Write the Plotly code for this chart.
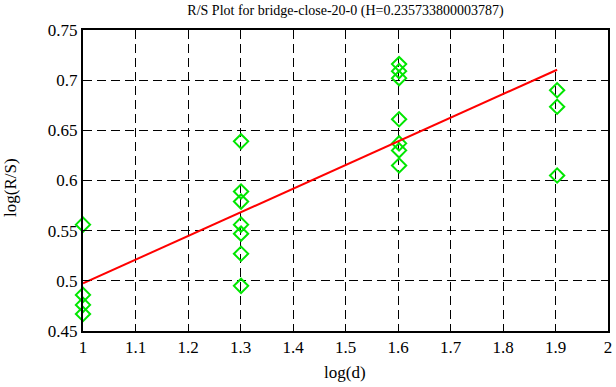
import plotly.graph_objects as go

# Data
x_vals = [1.0, 1.0, 1.0, 1.0,
          1.30103, 1.30103, 1.30103, 1.30103, 1.30103, 1.30103, 1.30103,
          1.60206, 1.60206, 1.60206, 1.60206, 1.60206, 1.60206, 1.60206,
          1.90309, 1.90309, 1.90309]
y_vals = [0.556, 0.486, 0.476, 0.467,
          0.639, 0.589, 0.579, 0.556, 0.547, 0.527, 0.495,
          0.716, 0.709, 0.702, 0.661, 0.637, 0.630, 0.615,
          0.690, 0.6735, 0.605]
H = 0.235733800003787
intercept_at_1 = 0.4975
fit_x = [1.0, 1.90309]
fit_y = [intercept_at_1 + H * (xv - 1.0) for xv in fit_x]

x_ticks = [1, 1.1, 1.2, 1.3, 1.4, 1.5, 1.6, 1.7, 1.8, 1.9, 2]
x_ticklabels = ["1", "1.1", "1.2", "1.3", "1.4", "1.5", "1.6", "1.7", "1.8", "1.9", "2"]
y_ticks = [0.45, 0.5, 0.55, 0.6, 0.65, 0.7, 0.75]
y_ticklabels = ["0.45", "0.5", "0.55", "0.6", "0.65", "0.7", "0.75"]

font_family = "Liberation Serif"
W, Hpx = 616, 387

fig = go.Figure()
fig.add_trace(go.Scatter(
    x=x_vals, y=y_vals, mode="markers",
    marker=dict(symbol="diamond-open", size=11, color="#00e600",
                line=dict(width=2, color="#00e600")),
    showlegend=False, cliponaxis=False,
))
fig.add_trace(go.Scatter(
    x=fit_x, y=fit_y, mode="lines",
    line=dict(color="#ff0000", width=2),
    showlegend=False,
))

axis_common = dict(
    showline=True, linecolor="black", linewidth=2, mirror="ticks",
    ticks="inside", ticklen=7, tickwidth=1, tickcolor="black",
    showgrid=True, gridcolor="black", gridwidth=1, griddash="9px,5px",
    zeroline=False, automargin=False,
    tickfont=dict(family=font_family, size=17, color="black"),
)

fig.update_layout(
    width=W, height=Hpx,
    margin=dict(l=83, r=8, t=30, b=56),
    paper_bgcolor="white", plot_bgcolor="white",
    font=dict(family=font_family, color="black", size=17),
    title=dict(text="R/S Plot for bridge-close-20-0 (H=0.235733800003787)",
               x=345.5 / W, xanchor="center",
               y=1 - 10 / Hpx, yanchor="middle",
               font=dict(family=font_family, size=14, color="black")),
    xaxis=dict(axis_common, range=[1, 2], tickvals=x_ticks, ticktext=x_ticklabels),
    yaxis=dict(axis_common, range=[0.45, 0.75], tickvals=y_ticks, ticktext=y_ticklabels),
    annotations=[
        dict(text="log(d)", xref="paper", yref="paper",
             x=(345 - 83) / (W - 83 - 8), y=-(372 - 331) / (331 - 30),
             xanchor="center", yanchor="middle", showarrow=False,
             font=dict(family=font_family, size=17, color="black")),
        dict(text="log(R/S)", xref="paper", yref="paper", textangle=-90,
             x=-(83 - 10) / (W - 83 - 8), y=(331 - 188) / (331 - 30),
             xanchor="center", yanchor="middle", showarrow=False,
             font=dict(family=font_family, size=17, color="black")),
    ],
)

fig.write_html("out.html", config={"displayModeBar": False},
               post_script="document.body.style.margin='0';document.body.style.overflow='hidden';")
